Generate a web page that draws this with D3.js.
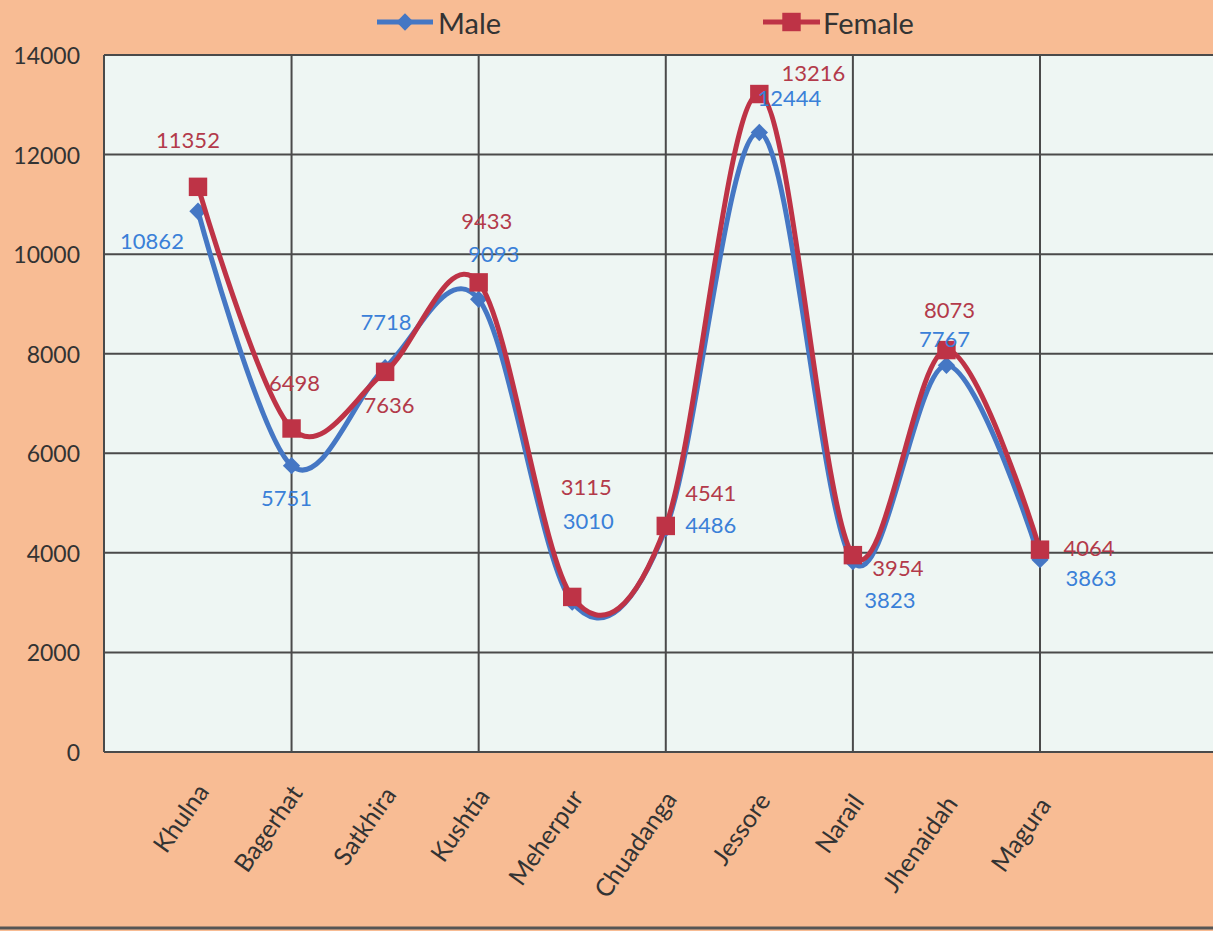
<!DOCTYPE html>
<html>
<head>
<meta charset="utf-8">
<script src="https://cdn.jsdelivr.net/npm/d3@7"></script>
<style>
  html, body { margin: 0; padding: 0; background: #F8BD96; }
  svg { display: block; }
</style>
</head>
<body>
<svg id="chart" width="1213" height="931"></svg>
<script>
// ---- data ----
const categories = ["Khulna","Bagerhat","Satkhira","Kushtia","Meherpur","Chuadanga","Jessore","Narail","Jhenaidah","Magura"];
const maleValues = [10862, 5751, 7718, 9093, 3010, 4486, 12444, 3823, 7767, 3863];
const femaleValues = [11352, 6498, 7636, 9433, 3115, 4541, 13216, 3954, 8073, 4064];
const yTicks = [0, 2000, 4000, 6000, 8000, 10000, 12000, 14000];
const seriesNames = ["Male", "Female"];

// ---- label placement (offsets from the point, in px) ----
const maleLabelOffsets = [[-46,29],[-5,32],[1,-46],[15,-46],[16,-82],[45,-4],[30,-35],[37,38],[-2,-27],[51,18]];
const femaleLabelOffsets = [[-10,-47],[3,-46],[4,33],[8,-62],[14,-110],[45,-33],[54,-22],[45,12],[3,-41],[49,-2]];

// ---- layout ----
const W = 1213, H = 931;
const plotTop = 55, plotBottom = 752, plotLeft = 104;
const maleColor = "#4577C4", femaleColor = "#BE3346";
const maleLabelColor = "#3A80D8", femaleLabelColor = "#B33A4A";
const gridColor = "#4a4a4a";
const font = "Lato, 'Open Sans', sans-serif";

const svg = d3.select("#chart");

const x = d3.scalePoint().domain(categories).range([198, 1040]);
const y = d3.scaleLinear().domain([0, 14000]).range([plotBottom, plotTop]);

// background
svg.append("rect").attr("x",0).attr("y",0).attr("width",W).attr("height",H).attr("fill","#F8BC94");
// plot area
svg.append("rect").attr("x",plotLeft).attr("y",plotTop).attr("width",W-plotLeft+10).attr("height",plotBottom-plotTop)
  .attr("fill","#EEF6F3");

// horizontal grid lines
svg.append("g").selectAll("line").data(yTicks).join("line")
  .attr("x1", plotLeft).attr("x2", W + 10)
  .attr("y1", d => y(d)).attr("y2", d => y(d))
  .attr("stroke", gridColor).attr("stroke-width", 2);

// vertical grid lines (every second category + left border)
const vLines = [plotLeft].concat(categories.filter((c,i) => i % 2 === 1).map(c => x(c)));
svg.append("g").selectAll("line").data(vLines).join("line")
  .attr("x1", d => d).attr("x2", d => d)
  .attr("y1", plotTop).attr("y2", plotBottom)
  .attr("stroke", gridColor).attr("stroke-width", 2);

// y axis labels
svg.append("g").selectAll("text").data(yTicks).join("text")
  .attr("x", 80).attr("y", d => y(d))
  .attr("text-anchor", "end").attr("dominant-baseline", "central")
  .attr("font-family", font).attr("font-size", 23).attr("fill", "#333")
  .text(d => d);

// x axis labels
svg.append("g").selectAll("text").data(categories).join("text")
  .attr("transform", (d,i) => `translate(${x(d)+4},${786 + i*1.5}) rotate(-55)`)
  .attr("text-anchor", "end").attr("dominant-baseline", "central")
  .attr("font-family", font).attr("font-size", 25).attr("fill", "#333")
  .text(d => d);

// bottom frame line
svg.append("line").attr("x1",0).attr("x2",W).attr("y1",928).attr("y2",928)
  .attr("stroke","#555").attr("stroke-width",3);

const line = d3.line().curve(d3.curveCatmullRom.alpha(0))
  .x((d,i) => x(categories[i])).y(d => y(d));

// male series
svg.append("path").datum(maleValues).attr("d", line)
  .attr("fill","none").attr("stroke", maleColor).attr("stroke-width", 5).attr("stroke-linejoin","round");
const diamond = d3.symbol().type(d3.symbolSquare).size(150);
svg.append("g").selectAll("path").data(maleValues).join("path")
  .attr("d", diamond)
  .attr("transform", (d,i) => `translate(${x(categories[i])},${y(d)}) rotate(45)`)
  .attr("fill", maleColor);

// female series
svg.append("path").datum(femaleValues).attr("d", line)
  .attr("fill","none").attr("stroke", femaleColor).attr("stroke-width", 5).attr("stroke-linejoin","round");
const square = d3.symbol().type(d3.symbolSquare).size(340);
svg.append("g").selectAll("path").data(femaleValues).join("path")
  .attr("d", square)
  .attr("transform", (d,i) => `translate(${x(categories[i])},${y(d)})`)
  .attr("fill", femaleColor);

// data labels
svg.append("g").selectAll("text").data(maleValues).join("text")
  .attr("x", (d,i) => x(categories[i]) + maleLabelOffsets[i][0])
  .attr("y", (d,i) => y(d) + maleLabelOffsets[i][1])
  .attr("text-anchor","middle").attr("dominant-baseline","central")
  .attr("font-family", font).attr("font-size", 22).attr("fill", maleLabelColor)
  .text(d => d);
svg.append("g").selectAll("text").data(femaleValues).join("text")
  .attr("x", (d,i) => x(categories[i]) + femaleLabelOffsets[i][0])
  .attr("y", (d,i) => y(d) + femaleLabelOffsets[i][1])
  .attr("text-anchor","middle").attr("dominant-baseline","central")
  .attr("font-family", font).attr("font-size", 22).attr("fill", femaleLabelColor)
  .text(d => d);

// legend
const legend = [
  {name: seriesNames[0], color: maleColor, x1: 377, x2: 433, tx: 438, sym: "diamond"},
  {name: seriesNames[1], color: femaleColor, x1: 763, x2: 820, tx: 823, sym: "square"}
];
const lg = svg.append("g").selectAll("g").data(legend).join("g");
lg.append("line").attr("x1", d => d.x1).attr("x2", d => d.x2).attr("y1", 22).attr("y2", 22)
  .attr("stroke", d => d.color).attr("stroke-width", 5);
lg.append("path")
  .attr("d", d => d.sym === "diamond" ? diamond() : square())
  .attr("transform", d => `translate(${(d.x1+d.x2)/2},22)` + (d.sym === "diamond" ? " rotate(45)" : ""))
  .attr("fill", d => d.color);
lg.append("text").attr("x", d => d.tx).attr("y", 22)
  .attr("dominant-baseline","central")
  .attr("font-family", font).attr("font-size", 29).attr("fill", "#333")
  .text(d => d.name);
</script>
</body>
</html>
